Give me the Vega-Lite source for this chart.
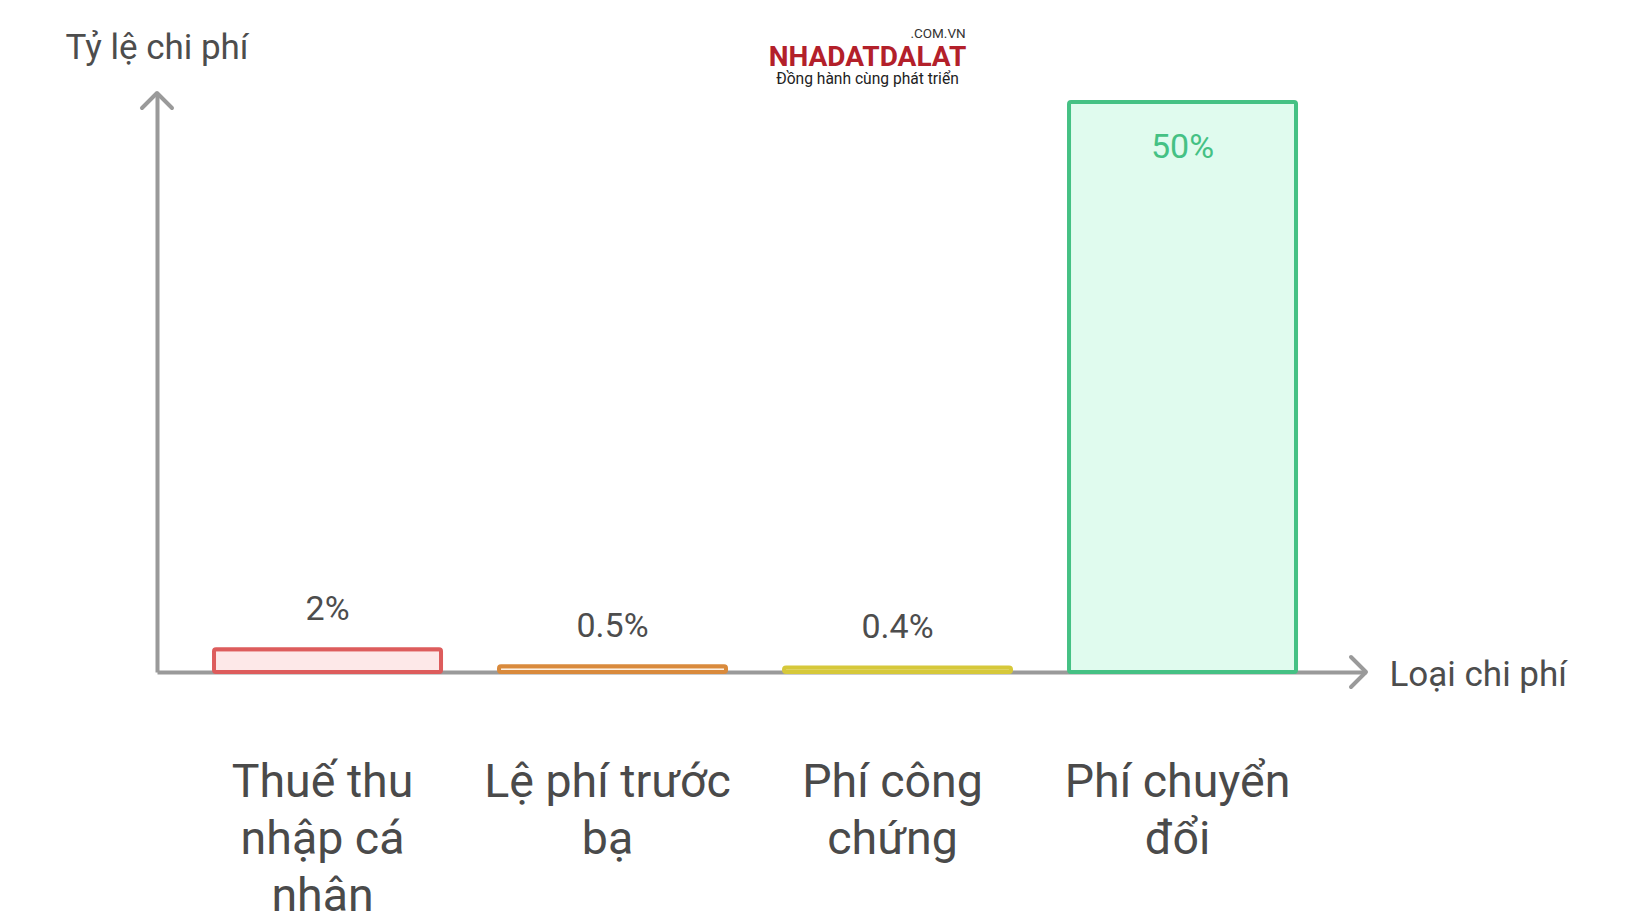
{
  "$schema": "https://vega.github.io/schema/vega-lite/v6.json",
  "width": 1209,
  "height": 579,
  "autosize": {"type": "none"},
  "padding": {"left": 157, "top": 93, "right": 274, "bottom": 252},
  "background": "white",
  "config": {"view": {"stroke": null}, "font": "Roboto"},
  "title": {
    "text": "NHADATDALAT",
    "subtitle": "Đồng hành cùng phát triển",
    "anchor": "middle",
    "frame": "group",
    "dx": 106,
    "offset": -61,
    "font": "Roboto",
    "fontSize": 28,
    "fontWeight": "bold",
    "color": "#b3202a",
    "subtitleFont": "Roboto",
    "subtitleFontSize": 15.6,
    "subtitleColor": "#222222",
    "subtitlePadding": 0
  },
  "data": {
    "values": [
      {"category": "Thuế thu nhập cá nhân", "value": 2, "label": "2%"},
      {"category": "Lệ phí trước bạ", "value": 0.5, "label": "0.5%"},
      {"category": "Phí công chứng", "value": 0.4, "label": "0.4%"},
      {"category": "Phí chuyển đổi", "value": 50, "label": "50%"}
    ]
  },
  "layer": [
    {
      "encoding": {
        "x": {
          "field": "category",
          "type": "nominal",
          "sort": null,
          "scale": {"paddingInner": 0.2035, "paddingOuter": 0.2228, "align": 0.449},
          "axis": {
            "title": "Loại chi phí",
            "titleAngle": 0,
            "titleX": 1232,
            "titleY": 2,
            "titleAlign": "left",
            "titleBaseline": "middle",
            "titleFont": "Roboto",
            "titleFontSize": 35,
            "titleFontWeight": "normal",
            "titleColor": "#4d4d4d",
            "domain": true,
            "domainColor": "#9a9a9a",
            "domainWidth": 4,
            "ticks": false,
            "grid": false,
            "labelAngle": 0,
            "labelFont": "Roboto",
            "labelFontSize": 46.5,
            "labelColor": "#4a4a4a",
            "labelBaseline": "top",
            "labelPadding": 87,
            "labelOffset": -5,
            "labelLineHeight": 57,
            "labelLimit": 0,
            "labelExpr": "datum.label == 'Thuế thu nhập cá nhân' ? ['Thuế thu', 'nhập cá', 'nhân'] : datum.label == 'Lệ phí trước bạ' ? ['Lệ phí trước', 'bạ'] : datum.label == 'Phí công chứng' ? ['Phí công', 'chứng'] : ['Phí chuyển', 'đổi']"
          }
        },
        "y": {
          "field": "value",
          "type": "quantitative",
          "scale": {"domain": [0, 50.79], "nice": false, "zero": true},
          "axis": {
            "title": "Tỷ lệ chi phí",
            "titleAngle": 0,
            "titleX": -92,
            "titleY": -46,
            "titleAlign": "left",
            "titleBaseline": "middle",
            "titleFont": "Roboto",
            "titleFontSize": 35,
            "titleFontWeight": "normal",
            "titleColor": "#4d4d4d",
            "domain": true,
            "domainColor": "#9a9a9a",
            "domainWidth": 4,
            "ticks": false,
            "labels": false,
            "grid": false
          }
        }
      },
      "layer": [
        {
          "mark": {"type": "bar", "strokeWidth": 4, "cornerRadius": 2},
          "encoding": {
            "fill": {
              "field": "category",
              "type": "nominal",
              "sort": null,
              "scale": {"range": ["#fde8e8", "#fdf0e2", "#fbf6d6", "#e0fbee"]},
              "legend": null
            },
            "stroke": {
              "field": "category",
              "type": "nominal",
              "sort": null,
              "scale": {"range": ["#dd5c5c", "#d98a3c", "#d6c83a", "#45c184"]},
              "legend": null
            }
          }
        },
        {
          "transform": [{"filter": "datum.value < 40"}],
          "mark": {"type": "text", "baseline": "middle", "align": "center", "dy": -39, "fontSize": 34, "font": "Roboto", "color": "#4d4d4d"},
          "encoding": {"text": {"field": "label"}}
        },
        {
          "transform": [{"filter": "datum.value >= 40"}],
          "mark": {"type": "text", "baseline": "middle", "align": "center", "dy": 46, "fontSize": 34, "font": "Roboto", "color": "#45c184"},
          "encoding": {"text": {"field": "label"}}
        }
      ]
    },
    {
      "data": {"values": [{"end": "y", "px": 0, "py": 50.79}]},
      "mark": {"type": "point", "shape": "M -1 1 L 0 0 L 1 1", "filled": false, "size": 900, "strokeWidth": 4, "stroke": "#9a9a9a", "fill": null, "opacity": 1, "strokeCap": "round", "strokeJoin": "round"},
      "encoding": {
        "x": {"field": "px", "type": "quantitative", "scale": {"domain": [0, 1], "nice": false, "zero": false}, "axis": null},
        "y": {"field": "py", "type": "quantitative"}
      }
    },
    {
      "data": {"values": [{"end": "x", "px": 1, "py": 0}]},
      "mark": {"type": "point", "shape": "M -1 -1 L 0 0 L -1 1", "filled": false, "size": 900, "strokeWidth": 4, "stroke": "#9a9a9a", "fill": null, "opacity": 1, "strokeCap": "round", "strokeJoin": "round"},
      "encoding": {
        "x": {"field": "px", "type": "quantitative", "scale": {"domain": [0, 1], "nice": false, "zero": false}, "axis": null},
        "y": {"field": "py", "type": "quantitative"}
      }
    },
    {
      "data": {"values": [{"text": ".COM.VN", "px": 0.646, "py": 56.0}]},
      "mark": {"type": "text", "align": "center", "baseline": "middle", "fontSize": 13.5, "font": "Roboto", "color": "#333333"},
      "encoding": {
        "x": {"field": "px", "type": "quantitative", "scale": {"domain": [0, 1], "nice": false, "zero": false}, "axis": null},
        "y": {"field": "py", "type": "quantitative"},
        "text": {"field": "text"}
      }
    }
  ],
  "resolve": {"scale": {"x": "independent"}, "axis": {"x": "independent"}}
}
